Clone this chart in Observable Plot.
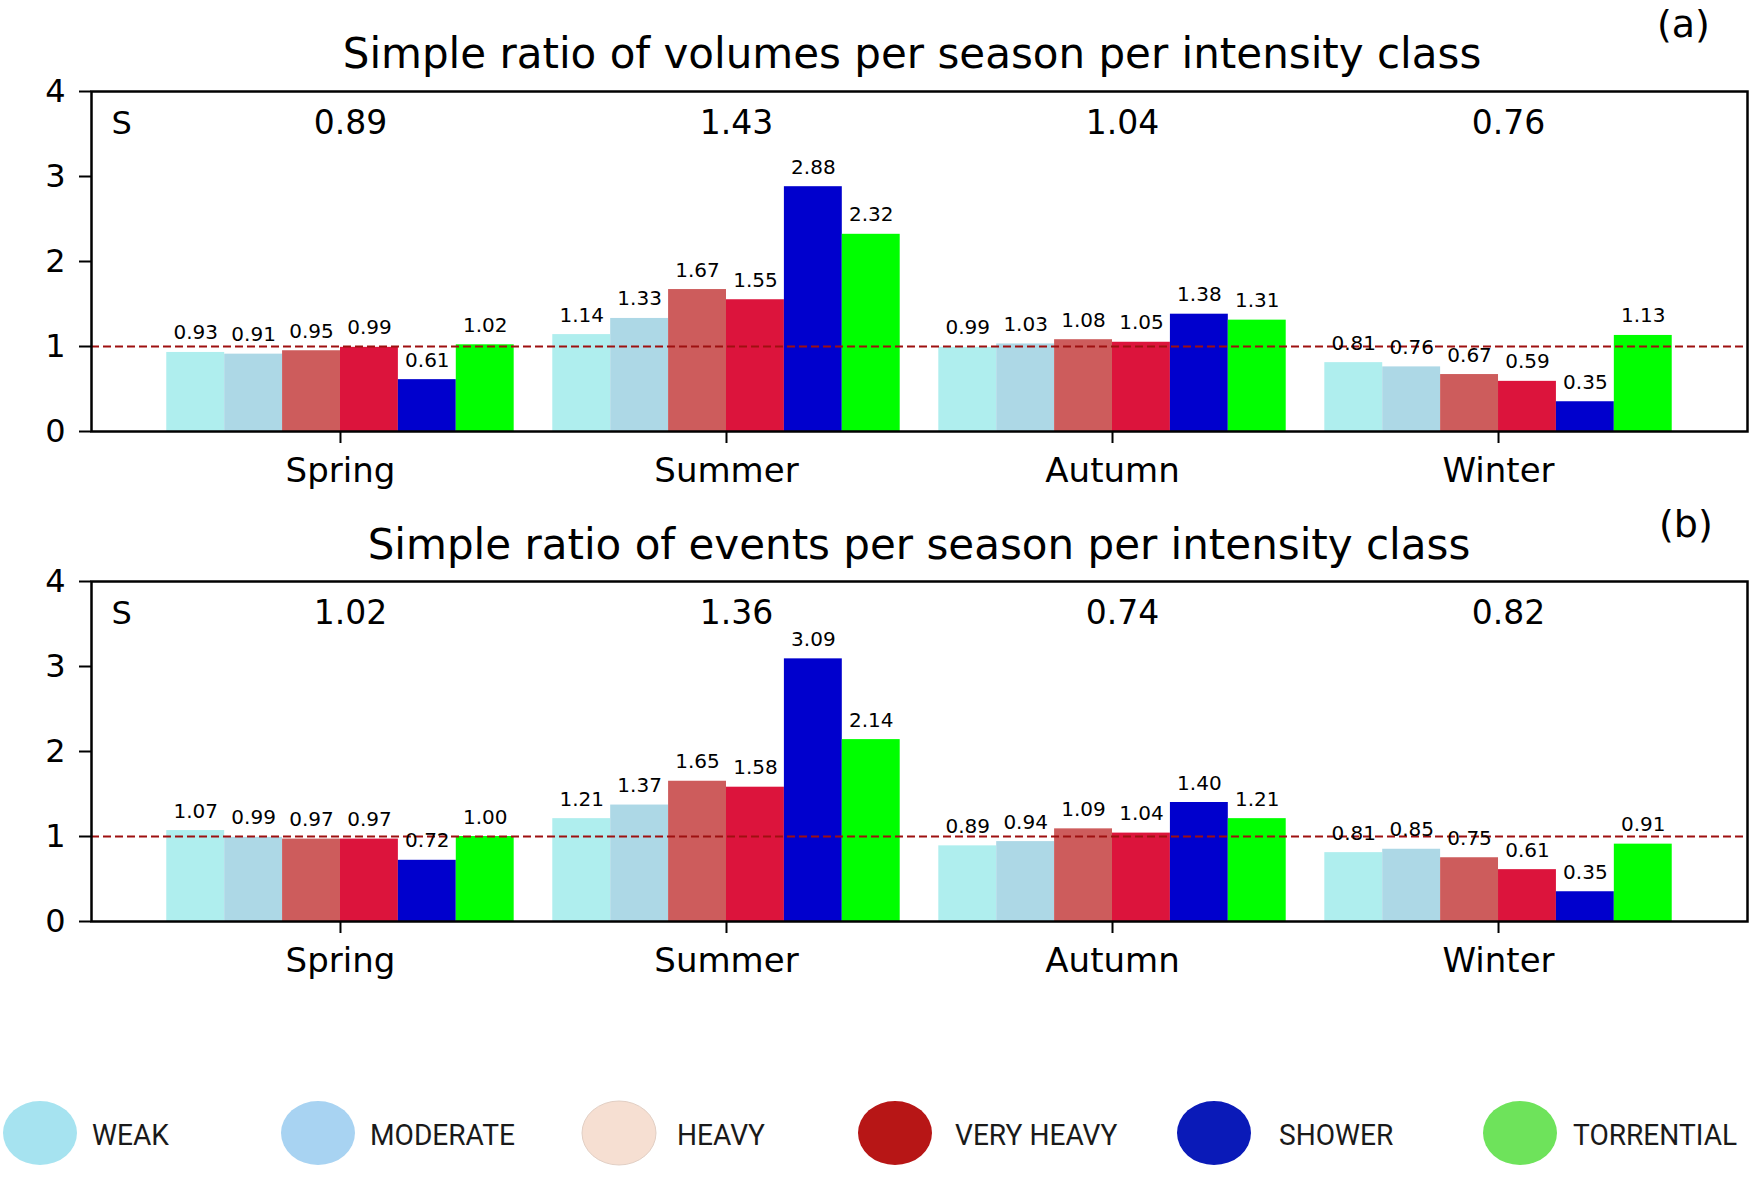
<!DOCTYPE html>
<html>
<head>
<meta charset="utf-8">
<script src="https://cdn.jsdelivr.net/npm/d3@7"></script>
<script src="https://cdn.jsdelivr.net/npm/@observablehq/plot@0.6"></script>
<style>
  body { margin: 0; background: #fff; }
  #root { position: relative; width: 1761px; height: 1181px; overflow: hidden; background: #fff; font-family: "DejaVu Sans", sans-serif; }
  #root > .panel { position: absolute; left: 0; }
  #overlay { position: absolute; left: 0; top: 0; pointer-events: none; }
</style>
</head>
<body>
<div id="root"></div>
<script>
// ---------- data ----------
const seasons = ["Spring", "Summer", "Autumn", "Winter"];
const classes = ["WEAK", "MODERATE", "HEAVY", "VERY HEAVY", "SHOWER", "TORRENTIAL"];
const barColors = ["#afeeee", "#add8e6", "#cd5c5c", "#dc143c", "#0000cd", "#00ff00"];
const legendColors = ["#a6e3f0", "#a8d3f2", "#f6dfd2", "#b71616", "#0a1ab8", "#6ee35b"];
const yTicks = [0, 1, 2, 3, 4];

// rows = seasons, columns = classes
const volumeRatios = [
  [0.93, 0.91, 0.95, 0.99, 0.61, 1.02],
  [1.14, 1.33, 1.67, 1.55, 2.88, 2.32],
  [0.99, 1.03, 1.08, 1.05, 1.38, 1.31],
  [0.81, 0.76, 0.67, 0.59, 0.35, 1.13]
];
const volumeSeasonS = [0.89, 1.43, 1.04, 0.76];

const eventRatios = [
  [1.07, 0.99, 0.97, 0.97, 0.72, 1.00],
  [1.21, 1.37, 1.65, 1.58, 3.09, 2.14],
  [0.89, 0.94, 1.09, 1.04, 1.40, 1.21],
  [0.81, 0.85, 0.75, 0.61, 0.35, 0.91]
];
const eventSeasonS = [1.02, 1.36, 0.74, 0.82];

const titleA = "Simple ratio of volumes per season per intensity class";
const titleB = "Simple ratio of events per season per intensity class";

// ---------- layout ----------
const W = 1761;
const BW = 0.15; // bar width in season units (matplotlib-like)
const root = document.getElementById("root");

function panel(values, sVals, top) {
  const rows = [];
  seasons.forEach((s, si) => classes.forEach((c, ci) => rows.push({season: s, si, cls: c, ci, v: values[si][ci]})));
  const sRows = seasons.map((s, si) => ({si, s: sVals[si]}));
  const p = Plot.plot({
    width: W, height: 421,
    marginLeft: 91, marginRight: 14, marginTop: 11, marginBottom: 70,
    x: {type: "linear", domain: [-0.645, 3.645]},
    y: {domain: [0, 4]},
    color: {domain: classes, range: barColors},
    style: {fontFamily: "DejaVu Sans, sans-serif", color: "black", background: "transparent", overflow: "visible"},
    marks: [
      Plot.rect(rows, {
        x1: d => d.si + (d.ci - 3) * BW,
        x2: d => d.si + (d.ci - 2) * BW,
        y1: () => 0, y2: "v", fill: "cls"
      }),
      Plot.ruleY([1], {stroke: "#9e1010", strokeWidth: 2, strokeDasharray: "8,4"}),
      Plot.text(rows, {
        x: d => d.si + (d.ci - 2.5) * BW, y: "v",
        text: d => d.v.toFixed(2), dy: -13, lineAnchor: "bottom",
        fontSize: 20, fill: "black"
      }),
      Plot.text(sRows, {
        x: "si", frameAnchor: "top", dy: 42, dx: 10, lineAnchor: "bottom",
        text: d => d.s.toFixed(2), fontSize: 33, fill: "black"
      }),
      Plot.text(["S"], {
        frameAnchor: "top-left", dx: 20, dy: 42, lineAnchor: "bottom", textAnchor: "start",
        text: d => d, fontSize: 32, fill: "black"
      }),
      Plot.axisX({ticks: [0, 1, 2, 3], tickFormat: i => seasons[i], tickSize: 12, tickPadding: 14,
                  fontSize: 34, strokeWidth: 2, label: null}),
      Plot.axisY({ticks: yTicks, tickFormat: d => String(d), tickSize: 12, tickPadding: 14,
                  fontSize: 32, strokeWidth: 2, label: null}),
      Plot.frame({stroke: "black", strokeWidth: 2.5})
    ]
  });
  p.classList.add("panel");
  p.style.top = top + "px";
  root.appendChild(p);
}

panel(volumeRatios, volumeSeasonS, 80);
panel(eventRatios, eventSeasonS, 570);

// ---------- titles and legend overlay ----------
const ov = d3.select(root).append("svg")
  .attr("id", "overlay").attr("width", W).attr("height", 1181)
  .attr("font-family", "DejaVu Sans, sans-serif");

ov.append("text").attr("x", 912).attr("y", 68).attr("text-anchor", "middle")
  .attr("font-size", 42).text(titleA);
ov.append("text").attr("x", 919).attr("y", 559).attr("text-anchor", "middle")
  .attr("font-size", 42).text(titleB);
ov.append("text").attr("x", 1657).attr("y", 37).attr("font-size", 38).text("(a)");
ov.append("text").attr("x", 1659).attr("y", 537).attr("font-size", 38).text("(b)");

const legendEllipseX = [40, 318, 619, 895, 1214, 1520];
const legendTextX = [92, 370, 677, 955, 1279, 1573];
const lg = ov.append("g");
classes.forEach((c, i) => {
  lg.append("ellipse").attr("cx", legendEllipseX[i]).attr("cy", 1133)
    .attr("rx", 37).attr("ry", 32).attr("fill", legendColors[i])
    .attr("stroke", i === 2 ? "#e2cfc4" : "none").attr("stroke-width", 1);
  lg.append("text")
    .attr("transform", `translate(${legendTextX[i]},1145) scale(0.97,1)`)
    .attr("font-family", "Roboto, sans-serif").attr("font-size", 29).attr("fill", "#1a1a1a")
    .text(c);
});
</script>
</body>
</html>
